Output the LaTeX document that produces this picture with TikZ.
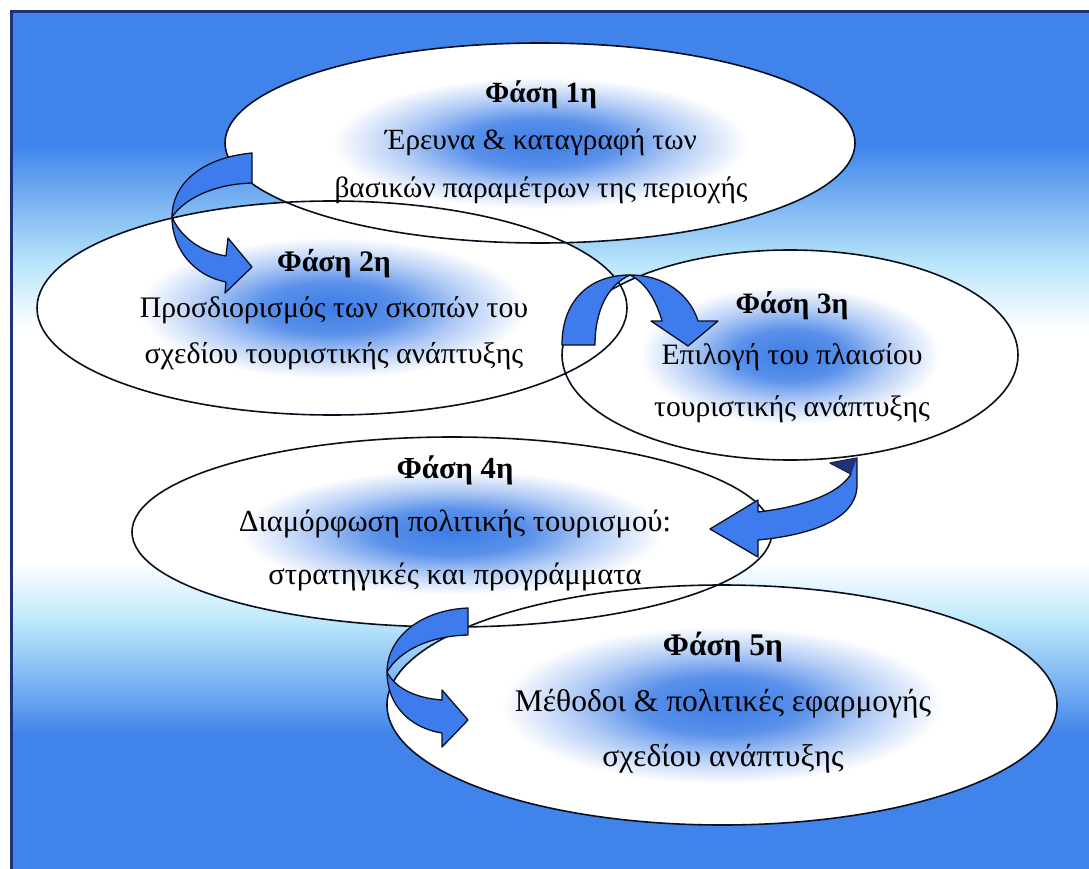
\documentclass[tikz,border=0pt]{standalone}
\usepackage{fontspec}
\setmainfont{Liberation Serif}
\usetikzlibrary{shapes.geometric}

\definecolor{bgblue}{RGB}{64,132,235}
\definecolor{bgpale}{RGB}{185,230,250}
\definecolor{glowblue}{RGB}{60,125,230}
\definecolor{arrowblue}{RGB}{62,124,238}
\definecolor{framenavy}{RGB}{30,50,120}
\definecolor{inkline}{RGB}{10,15,30}

\pgfdeclareradialshading{phaseglow}{\pgfpointorigin}{%
  color(0bp)=(glowblue); color(6bp)=(glowblue!85!white);
  color(11bp)=(glowblue!40!white); color(16.5bp)=(white); color(50bp)=(white)}

\pgfdeclarelayer{backdrop}
\pgfdeclarelayer{fills}
\pgfsetlayers{backdrop,fills,main}

\tikzset{
  phase/.style={ellipse, draw=inkline, line width=1.6pt, inner sep=0pt, outer sep=0pt},
  phasetext/.style 2 args={align=center, inner sep=0pt, text=black,
    font=\fontsize{#1}{#2}\selectfont},
  blockarrow/.style={fill=arrowblue, draw=inkline, line width=1.3pt, line join=round},
}

\begin{document}
\begin{tikzpicture}[x=1pt,y=-1pt]
\useasboundingbox (0,0) rectangle (1089,869);

% backdrop: white page, vertical blue-white-blue wash, navy frame
\begin{pgfonlayer}{backdrop}
  \fill[white] (0,0) rectangle (1089,869);
  \fill[bgblue] (10,10) rectangle (1089,146);
  \shade[top color=bgblue, bottom color=bgpale] (10,145) rectangle (1089,264);
  \shade[top color=bgpale, bottom color=white] (10,263) rectangle (1089,330);
  \fill[white] (10,329) rectangle (1089,562);
  \shade[top color=white, bottom color=bgpale] (10,561) rectangle (1089,625);
  \shade[top color=bgpale, bottom color=bgblue] (10,624) rectangle (1089,735);
  \fill[bgblue] (10,734) rectangle (1089,869);
  \draw[framenavy, line width=3pt] (11.5,880) -- (11.5,11.5) -- (1100,11.5);
\end{pgfonlayer}

% phase ellipses (outlines)
\node[phase, minimum width=630pt, minimum height=200pt] (p1) at (540,143) {};
\node[phase, minimum width=590pt, minimum height=214pt] (p2) at (332,308) {};
\node[phase, minimum width=456pt, minimum height=210pt] (p3) at (790,355) {};
\node[phase, minimum width=640pt, minimum height=190pt] (p4) at (452,532) {};
\node[phase, minimum width=670pt, minimum height=240pt] (p5) at (722,705) {};

% white fills with a blue glow in the middle, under all outlines
\begin{pgfonlayer}{fills}
  \foreach \n/\rx/\ry in {p1/315/100, p2/295/107, p3/228/105, p4/320/95, p5/335/120}
    \shade[shading=phaseglow] (\n.center) ellipse [x radius=\rx pt, y radius=\ry pt];
\end{pgfonlayer}

% texts
\node[phasetext={29.3}{47.5}] (t1) at (541,142)
  {\textbf{Φάση 1η}\\Έρευνα \& καταγραφή των\\βασικών παραμέτρων της περιοχής};
\node[phasetext={29.8}{46}] (t2) at (334,310)
  {\textbf{Φάση 2η}\\Προσδιορισμός των σκοπών του\\σχεδίου τουριστικής ανάπτυξης};
\node[phasetext={29.6}{51.5}] (t3) at (792,357)
  {\textbf{Φάση 3η}\\Επιλογή του πλαισίου\\τουριστικής ανάπτυξης};
\node[phasetext={30.6}{53}] (t4) at (455,523)
  {\textbf{Φάση 4η}\\Διαμόρφωση πολιτικής τουρισμού:\\στρατηγικές και προγράμματα};
\node[phasetext={31.5}{55.5}] (t5) at (723,703)
  {\textbf{Φάση 5η}\\Μέθοδοι \& πολιτικές εφαρμογής\\σχεδίου ανάπτυξης};

% curved block arrow: phase 1 -> phase 2
\draw[blockarrow] (252,153) .. controls (200,158) and (172,185) .. (172,217)
  .. controls (185,198) and (215,184) .. (252,183) -- cycle;
\draw[blockarrow] (172,217) .. controls (172,250) and (195,276) .. (226,282)
  -- (225,293) -- (252,267) -- (228,238) -- (226,256)
  .. controls (200,252) and (180,236) .. (172,217) -- cycle;

% curved block arrow: phase 2 -> phase 3
\draw[blockarrow] (562,345) .. controls (562,300) and (590,275) .. (630,275)
  .. controls (608,285) and (595,310) .. (595,345) -- cycle;
\draw[blockarrow] (630,275) .. controls (665,275) and (690,295) .. (698,321)
  -- (718,321) -- (688,346) -- (651,321) -- (662,321)
  .. controls (656,300) and (646,283) .. (630,275) -- cycle;

% curved block arrow: phase 3 -> phase 4
\draw[blockarrow] (857,458) -- (857,487)
  .. controls (855,520) and (810,535) .. (758,540)
  -- (758,557) -- (710,529) -- (758,500) -- (758,512)
  .. controls (800,507) and (838,495) .. (851,474) -- (830,463) -- cycle;
\fill[framenavy] (830,463) -- (857,458) -- (851,474) -- cycle;

% curved block arrow: phase 4 -> phase 5
\draw[blockarrow] (468,608) .. controls (420,610) and (387,638) .. (387,672)
  .. controls (400,650) and (430,636) .. (468,635) -- cycle;
\draw[blockarrow] (387,672) .. controls (387,705) and (410,728) .. (442,733)
  -- (442,747) -- (468,720) -- (442,690) -- (442,700)
  .. controls (415,698) and (395,688) .. (387,672) -- cycle;
\end{tikzpicture}
\end{document}
